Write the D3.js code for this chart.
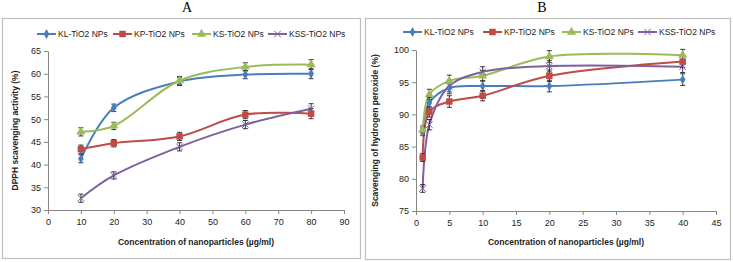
<!DOCTYPE html>
<html><head><meta charset="utf-8">
<script src="https://cdn.jsdelivr.net/npm/d3@7"></script>
<style>body{margin:0;background:#fff}svg{display:block}</style>
</head><body>
<svg id="c" width="733" height="262"></svg>
<script>
const seriesNames = ["KL-TiO2 NPs","KP-TiO2 NPs","KS-TiO2 NPs","KSS-TiO2 NPs"];
const seriesColors = ["#4A7EBB","#BE4B48","#9BBB59","#7D60A0"];
const seriesMarkers = ["diamond","square","triangle","x"];

// Panel A: DPPH
const xA = [10,20,40,60,80];
const aKL = [41.3,52.5,58.3,59.8,60.0];
const aKP = [43.4,44.7,46.2,51.0,51.2];
const aKS = [47.2,48.5,58.5,61.5,62.0];
const aKSS = [32.6,37.6,43.9,48.8,52.3];
const errA = [0.9,0.8,0.9,0.9,1.1];
const xTicksA = [0,10,20,30,40,50,60,70,80,90];
const yTicksA = [30,35,40,45,50,55,60,65];

// Panel B: H2O2
const xB = [1,2,5,10,20,40];
const bKL = [87.3,91.8,94.1,94.4,94.4,95.4];
const bKP = [83.3,90.4,92.0,92.9,96.0,98.2];
const bKS = [87.6,93.1,95.2,96.0,99.0,99.2];
const bKSS = [78.5,88.4,94.4,96.6,97.5,97.4];
const errB = [0.6,0.8,0.9,0.8,0.9,0.9];
const xTicksB = [0,5,10,15,20,25,30,35,40,45];
const yTicksB = [75,80,85,90,95,100];

const svg = d3.select("#c");
const font = "'Liberation Sans', Arial, sans-serif";

function markerPath(type){
  if(type==="diamond") return d3.symbol(d3.symbolDiamond, 28)();
  if(type==="square") return d3.symbol(d3.symbolSquare, 42)();
  if(type==="triangle") return d3.symbol(d3.symbolTriangle, 36)();
  return d3.symbol(d3.symbolX, 30)();
}
function drawMarker(g, type, color, x, y){
  const p = g.append("path").attr("d", markerPath(type)).attr("transform", `translate(${x},${y})`);
  if(type==="x") p.attr("fill","none").attr("stroke",color).attr("stroke-width",1);
  else p.attr("fill",color);
}

function panel(cfg){
  const g = svg.append("g");
  g.append("rect").attr("x",cfg.frame[0]+0.5).attr("y",cfg.frame[1]+0.5)
   .attr("width",cfg.frame[2]).attr("height",cfg.frame[3])
   .attr("fill","#fff").attr("stroke","#bfbfbf").attr("stroke-width",1.2);
  g.append("text").attr("x",cfg.titleX).attr("y",12).attr("text-anchor","middle")
   .attr("font-family","'Liberation Serif', 'Times New Roman', serif").attr("font-size",14).text(cfg.title);
  const x = d3.scaleLinear().domain(cfg.xDom).range(cfg.xRange);
  const y = d3.scaleLinear().domain(cfg.yDom).range(cfg.yRange);
  const xAxis = d3.axisBottom(x).tickValues(cfg.xTicks).tickSize(4).tickSizeOuter(0).tickPadding(5);
  const yAxis = d3.axisLeft(y).tickValues(cfg.yTicks).tickSize(4).tickSizeOuter(0).tickPadding(3);
  const gx = g.append("g").attr("transform",`translate(0,${cfg.yRange[0]})`).call(xAxis);
  const gy = g.append("g").attr("transform",`translate(${cfg.xRange[0]},0)`).call(yAxis);
  [gx,gy].forEach(a=>{
    a.selectAll("path,line").attr("stroke","#868686");
    a.selectAll("text").attr("font-family",font).attr("font-size",9).attr("fill","#222");
  });
  g.append("text").attr("x",(cfg.xRange[0]+cfg.xRange[1])/2).attr("y",cfg.xTitleY)
   .attr("text-anchor","middle").attr("font-family",font).attr("font-size",8.5).attr("font-weight","bold")
   .attr("fill","#222").text("Concentration of nanoparticles  (µg/ml)");
  g.append("text").attr("transform",`translate(${cfg.yTitleX},${(cfg.yRange[0]+cfg.yRange[1])/2}) rotate(-90)`)
   .attr("text-anchor","middle").attr("font-family",font).attr("font-size",8.5).attr("font-weight","bold")
   .attr("fill","#222").text(cfg.yTitle);
  const line = d3.line().x(d=>x(d[0])).y(d=>y(d[1])).curve(d3.curveCatmullRom.alpha(0.5));
  cfg.series.forEach((vals,i)=>{
    const pts = cfg.xs.map((xv,j)=>[xv,vals[j]]);
    g.append("path").attr("d",line(pts)).attr("fill","none").attr("stroke",seriesColors[i]).attr("stroke-width",2);
  });
  cfg.series.forEach((vals,i)=>{
    const eg = g.append("g");
    cfg.xs.forEach((xv,j)=>{
      const cx = x(xv), e = cfg.err[j];
      const y1 = y(vals[j]+e), y2 = y(vals[j]-e);
      eg.append("line").attr("x1",cx).attr("x2",cx).attr("y1",y1).attr("y2",y2).attr("stroke","#222").attr("stroke-width",0.9);
      eg.append("line").attr("x1",cx-2.5).attr("x2",cx+2.5).attr("y1",y1).attr("y2",y1).attr("stroke","#222").attr("stroke-width",0.9);
      eg.append("line").attr("x1",cx-2.5).attr("x2",cx+2.5).attr("y1",y2).attr("y2",y2).attr("stroke","#222").attr("stroke-width",0.9);
    });
  });
  cfg.series.forEach((vals,i)=>{
    cfg.xs.forEach((xv,j)=> drawMarker(g, seriesMarkers[i], seriesColors[i], x(xv), y(vals[j])));
  });
  cfg.legend.forEach((lx,i)=>{
    const ly = cfg.legendY;
    g.append("line").attr("x1",lx).attr("x2",lx+19).attr("y1",ly).attr("y2",ly).attr("stroke",seriesColors[i]).attr("stroke-width",2);
    drawMarker(g, seriesMarkers[i], seriesColors[i], lx+9.5, ly);
    g.append("text").attr("x",lx+21).attr("y",ly+3).attr("font-family",font).attr("font-size",8.5)
     .attr("fill","#222").text(seriesNames[i]);
  });
}

panel({frame:[2,18,358,240], title:"A", titleX:187,
  xDom:[0,90], xRange:[48,344], yDom:[30,65], yRange:[210,51],
  xTicks:xTicksA, yTicks:yTicksA, xTitleY:245, yTitleX:18, yTitle:"DPPH scavenging activity (%)",
  xs:xA, series:[aKL,aKP,aKS,aKSS], err:errA, legend:[37,113,192,268], legendY:34});

panel({frame:[365,18,365,241], title:"B", titleX:542,
  xDom:[0,45], xRange:[416,716], yDom:[75,100], yRange:[211,50],
  xTicks:xTicksB, yTicks:yTicksB, xTitleY:245, yTitleX:378, yTitle:"Scavenging of hydrogen peroxide (%)",
  xs:xB, series:[bKL,bKP,bKS,bKSS], err:errB, legend:[403,483,562,638], legendY:32});
</script>
</body></html>
